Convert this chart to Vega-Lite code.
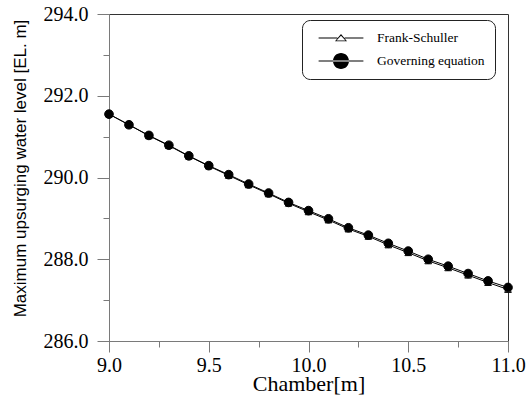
{
  "$schema": "https://vega.github.io/schema/vega-lite/v6.json",
  "width": 399,
  "height": 327,
  "autosize": {"type": "none"},
  "padding": {"left": 109, "top": 14, "right": 21, "bottom": 60},
  "background": "white",
  "config": {
    "font": "Liberation Serif",
    "view": {"stroke": "#333333", "strokeWidth": 1},
    "axis": {
      "grid": false,
      "domainColor": "#7a7a7a",
      "tickColor": "#7a7a7a",
      "labelColor": "black",
      "titleColor": "black",
      "labelFont": "Liberation Serif",
      "titleFont": "Liberation Serif"
    }
  },
  "data": {
    "values": [
      {"chamber": 9.0, "series": "Frank-Schuller", "level": 291.55},
      {"chamber": 9.1, "series": "Frank-Schuller", "level": 291.29},
      {"chamber": 9.2, "series": "Frank-Schuller", "level": 291.02},
      {"chamber": 9.3, "series": "Frank-Schuller", "level": 290.78},
      {"chamber": 9.4, "series": "Frank-Schuller", "level": 290.52},
      {"chamber": 9.5, "series": "Frank-Schuller", "level": 290.28},
      {"chamber": 9.6, "series": "Frank-Schuller", "level": 290.05},
      {"chamber": 9.7, "series": "Frank-Schuller", "level": 289.82},
      {"chamber": 9.8, "series": "Frank-Schuller", "level": 289.60},
      {"chamber": 9.9, "series": "Frank-Schuller", "level": 289.37},
      {"chamber": 10.0, "series": "Frank-Schuller", "level": 289.16},
      {"chamber": 10.1, "series": "Frank-Schuller", "level": 288.96},
      {"chamber": 10.2, "series": "Frank-Schuller", "level": 288.74},
      {"chamber": 10.3, "series": "Frank-Schuller", "level": 288.56},
      {"chamber": 10.4, "series": "Frank-Schuller", "level": 288.35},
      {"chamber": 10.5, "series": "Frank-Schuller", "level": 288.16},
      {"chamber": 10.6, "series": "Frank-Schuller", "level": 287.96},
      {"chamber": 10.7, "series": "Frank-Schuller", "level": 287.79},
      {"chamber": 10.8, "series": "Frank-Schuller", "level": 287.61},
      {"chamber": 10.9, "series": "Frank-Schuller", "level": 287.43},
      {"chamber": 11.0, "series": "Frank-Schuller", "level": 287.26},
      {"chamber": 9.0, "series": "Governing equation", "level": 291.55},
      {"chamber": 9.1, "series": "Governing equation", "level": 291.29},
      {"chamber": 9.2, "series": "Governing equation", "level": 291.03},
      {"chamber": 9.3, "series": "Governing equation", "level": 290.79},
      {"chamber": 9.4, "series": "Governing equation", "level": 290.53},
      {"chamber": 9.5, "series": "Governing equation", "level": 290.29},
      {"chamber": 9.6, "series": "Governing equation", "level": 290.07},
      {"chamber": 9.7, "series": "Governing equation", "level": 289.84},
      {"chamber": 9.8, "series": "Governing equation", "level": 289.62},
      {"chamber": 9.9, "series": "Governing equation", "level": 289.39},
      {"chamber": 10.0, "series": "Governing equation", "level": 289.19},
      {"chamber": 10.1, "series": "Governing equation", "level": 288.99},
      {"chamber": 10.2, "series": "Governing equation", "level": 288.77},
      {"chamber": 10.3, "series": "Governing equation", "level": 288.59},
      {"chamber": 10.4, "series": "Governing equation", "level": 288.39},
      {"chamber": 10.5, "series": "Governing equation", "level": 288.20},
      {"chamber": 10.6, "series": "Governing equation", "level": 288.00},
      {"chamber": 10.7, "series": "Governing equation", "level": 287.83},
      {"chamber": 10.8, "series": "Governing equation", "level": 287.65},
      {"chamber": 10.9, "series": "Governing equation", "level": 287.47},
      {"chamber": 11.0, "series": "Governing equation", "level": 287.31}
    ]
  },
  "encoding": {
    "x": {
      "field": "chamber",
      "type": "quantitative",
      "scale": {"domain": [9, 11], "nice": false, "zero": false},
      "axis": {
        "title": "Chamber[m]",
        "titleFontSize": 22,
        "titleFontWeight": "normal",
        "titleBaseline": "alphabetic",
        "titleY": 49,
        "values": [9, 9.25, 9.5, 9.75, 10, 10.25, 10.5, 10.75, 11],
        "labelExpr": "(datum.value * 4) % 2 == 0 ? format(datum.value, '.1f') : ''",
        "labelFontSize": 20,
        "labelPadding": 3,
        "labelFlush": false,
        "labelOverlap": false,
        "tickSize": {"condition": {"test": "(datum.value * 4) % 2 == 0", "value": 11}, "value": 6}
      }
    },
    "y": {
      "field": "level",
      "type": "quantitative",
      "scale": {"domain": [286, 294], "nice": false, "zero": false},
      "axis": {
        "title": "Maximum upsurging water level [EL. m]",
        "titleFont": "Liberation Sans",
        "titleFontSize": 17,
        "titleFontWeight": "normal",
        "titleAngle": 270,
        "titleBaseline": "alphabetic",
        "titleAlign": "center",
        "titleX": -84,
        "titleY": 154,
        "values": [286, 287, 288, 289, 290, 291, 292, 293, 294],
        "labelExpr": "datum.value % 2 == 0 ? format(datum.value, '.1f') : ''",
        "labelFontSize": 20,
        "labelPadding": 9,
        "labelFlush": false,
        "labelOverlap": false,
        "tickSize": {"condition": {"test": "datum.value % 2 == 0", "value": 12}, "value": 6}
      }
    }
  },
  "layer": [
    {
      "mark": {"type": "line", "color": "black", "strokeWidth": 1},
      "encoding": {"detail": {"field": "series", "type": "nominal"}}
    },
    {
      "mark": {"type": "point", "filled": true, "opacity": 1, "stroke": "black", "strokeWidth": 1},
      "encoding": {
        "shape": {
          "field": "series",
          "type": "nominal",
          "scale": {"domain": ["Frank-Schuller", "Governing equation"], "range": ["triangle-up", "circle"]},
          "legend": null
        },
        "fill": {
          "field": "series",
          "type": "nominal",
          "scale": {"domain": ["Frank-Schuller", "Governing equation"], "range": ["white", "black"]},
          "legend": null
        },
        "size": {
          "condition": {"test": "datum.series === 'Frank-Schuller'", "value": 45},
          "value": 75
        }
      }
    },
    {
      "mark": {"type": "point", "filled": true, "fill": "black", "opacity": 0, "size": 256},
      "encoding": {
        "shape": {
          "field": "series",
          "type": "nominal",
          "scale": {
            "domain": ["Frank-Schuller", "Governing equation"],
            "range": [
              "M-2.8,-0.0625H-0.45V0.0625H-2.8ZM0.45,-0.0625H2.8V0.0625H0.45ZM0,-0.5L0.75,0.4L-0.75,0.4ZM0,-0.29L-0.56,0.32L0.56,0.32Z",
              "M-2.8,-0.0625H2.8V0.0625H-2.8ZM1,0A1,1,0,1,0,-1,0A1,1,0,1,0,1,0Z"
            ]
          },
          "legend": {
            "title": null,
            "orient": "none",
            "legendX": 193,
            "legendY": 6,
            "strokeColor": "#222222",
            "fillColor": "white",
            "cornerRadius": 8,
            "padding": 10,
            "rowPadding": 8,
            "symbolSize": 256,
            "symbolOpacity": 1,
            "symbolFillColor": "black",
            "symbolStrokeWidth": 0,
            "symbolOffset": 21,
            "labelFont": "Liberation Serif",
            "labelFontSize": 13.5,
            "labelColor": "black",
            "labelOffset": 28
          }
        }
      }
    }
  ],
  "resolve": {"scale": {"shape": "independent"}}
}
